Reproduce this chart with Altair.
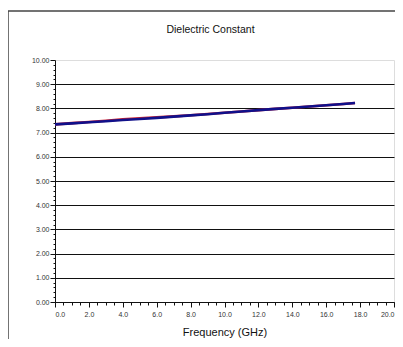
import altair as alt
import pandas as pd

# Frequency (GHz) and dielectric constant for two measured series
freq = [0.0, 1.0, 2.0, 3.0, 4.0, 5.0, 6.0, 7.0, 8.0, 9.0, 10.0, 11.0, 12.0, 13.0, 14.0, 15.0, 16.0, 17.0, 17.7]
blue_vals = [7.34, 7.38, 7.43, 7.47, 7.52, 7.56, 7.61, 7.66, 7.71, 7.76, 7.82, 7.87, 7.93, 7.98, 8.03, 8.08, 8.13, 8.18, 8.22]
red_vals = [7.34, 7.39, 7.44, 7.49, 7.55, 7.59, 7.63, 7.67, 7.72, 7.77, 7.82, 7.87, 7.93, 7.98, 8.03, 8.08, 8.13, 8.18, 8.22]

x_ticks = [round(i * 0.5, 1) for i in range(41)]
y_ticks = [round(i * 0.2, 1) for i in range(51)]

W, H = 339, 242

df = pd.DataFrame({
    "freq": freq * 2,
    "value": red_vals + blue_vals,
    "series": ["A"] * len(freq) + ["B"] * len(freq),
})

font = "Liberation Sans"

x_axis = alt.Axis(
    values=x_ticks,
    labelExpr="abs(datum.value/2 - round(datum.value/2)) < 0.001 ? format(datum.value, '.1f') : ''",
    tickSize={"condition": {"test": "abs(datum.value/2 - round(datum.value/2)) < 0.001", "value": 5}, "value": 3},
    tickColor="#111",
    domainColor="#111",
    labelFont=font, labelFontSize=7, labelColor="#333", labelPadding=3,
    grid=False,
    title="Frequency (GHz)", titleFont=font, titleFontSize=11, titleFontWeight="normal",
    titleColor="#111", titlePadding=9,
)

y_axis = alt.Axis(
    values=y_ticks,
    labelExpr="abs(datum.value - round(datum.value)) < 0.001 ? format(datum.value, '.2f') : ''",
    tickSize={"condition": {"test": "abs(datum.value - round(datum.value)) < 0.001", "value": 5}, "value": 2},
    gridOpacity={"condition": {"test": "abs(datum.value - round(datum.value)) < 0.001 && datum.value < 9.99", "value": 1}, "value": 0},
    gridColor="#111", gridWidth=1.2,
    tickColor="#111", domainColor="#111",
    labelFont=font, labelFontSize=7, labelColor="#333", labelPadding=1,
    title=None,
)

base = alt.Chart(df)

lines = base.mark_line(strokeWidth=2.6).encode(
    x=alt.X("freq:Q", scale=alt.Scale(domain=[0, 20], nice=False), axis=x_axis),
    y=alt.Y("value:Q", scale=alt.Scale(domain=[0, 10], nice=False), axis=y_axis),
    color=alt.Color("series:N", scale=alt.Scale(domain=["A", "B"], range=["#cc2233", "#10108a"]), legend=None),
    order=alt.Order("series:N"),
)

frame_df = pd.DataFrame({"k": [0]})
left_border = alt.Chart(frame_df).mark_rule(color="#444", strokeWidth=1.5).encode(
    x=alt.value(-47), y=alt.value(-49), y2=alt.value(H + 45)
)
top_border = alt.Chart(frame_df).mark_rule(color="#444", strokeWidth=1.5).encode(
    x=alt.value(-47), x2=alt.value(W + 20), y=alt.value(-49)
)

chart = alt.layer(lines, left_border, top_border).properties(
    width=W, height=H,
    autosize="none",
    padding={"left": 47, "top": 52, "right": 1, "bottom": 37},
    title=alt.TitleParams("Dielectric Constant", font=font, fontSize=10.5, fontWeight="normal",
                          color="#111", anchor="middle", offset=-25, dx=-14),
).configure_view(stroke="#888", strokeWidth=1.2).configure(background="white")

chart.save("out.html", embed_options={"renderer": "svg", "actions": False})
